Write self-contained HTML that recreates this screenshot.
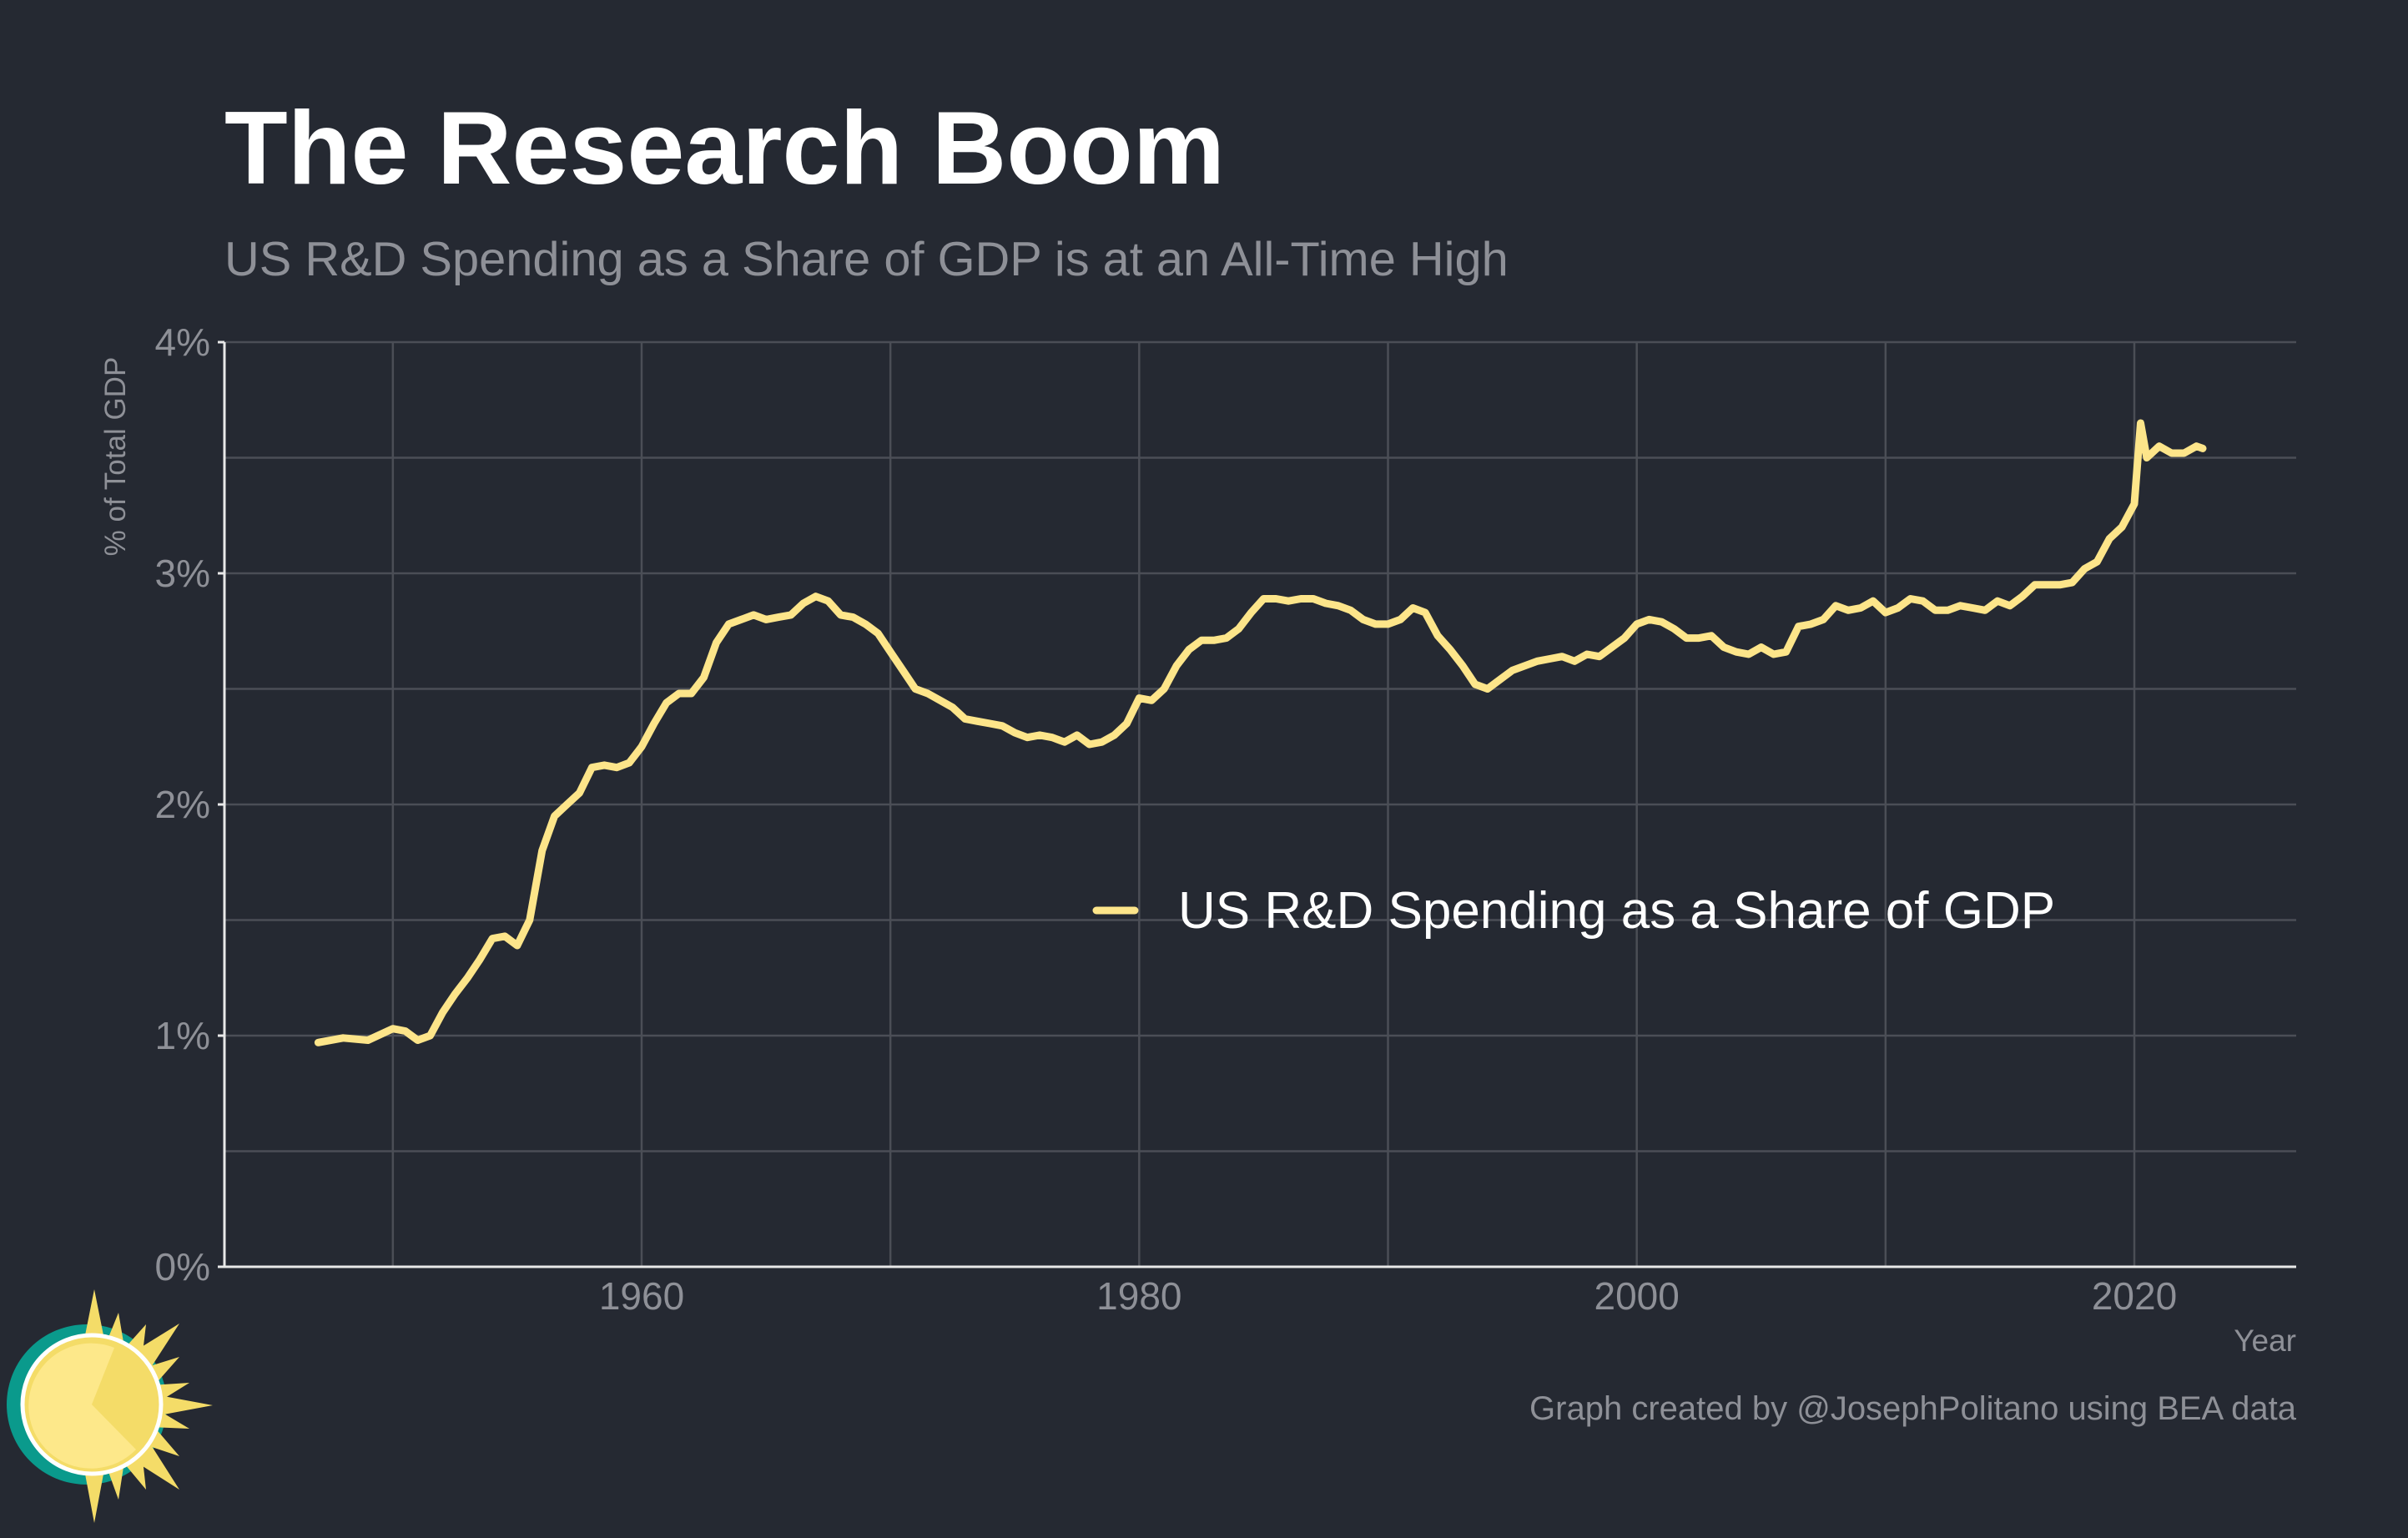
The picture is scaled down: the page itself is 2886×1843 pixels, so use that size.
<!DOCTYPE html>
<html><head><meta charset="utf-8"><style>
html,body{margin:0;padding:0;background:#252932;}
svg{display:block;font-family:"Liberation Sans",sans-serif;}
</style></head><body>
<svg id="chart" width="2886" height="1843" viewBox="0 0 2886 1843" xmlns="http://www.w3.org/2000/svg">
<rect width="2886" height="1843" fill="#252932"/>
<text x="269" y="220" font-size="124" font-weight="bold" fill="#ffffff">The Research Boom</text>
<text x="269" y="330" font-size="57.8" fill="#8e9097">US R&amp;D Spending as a Share of GDP is at an All-Time High</text>
<g id="grid"></g>
<g id="axes"></g>
<path id="series" fill="none" stroke="#fde58a" stroke-width="9" stroke-linejoin="round" stroke-linecap="round"/>
<text x="150" y="547" font-size="35" fill="#8e9097" text-anchor="middle" transform="rotate(-90 150 547)">% of Total GDP</text>
<text x="2752" y="1619" font-size="37" fill="#8e9097" text-anchor="end">Year</text>
<text x="2752" y="1701" font-size="40" fill="#8e9097" text-anchor="end">Graph created by @JosephPolitano using BEA data</text>
<g>
<line x1="1314" y1="1091" x2="1360" y2="1091" stroke="#fde58a" stroke-width="9" stroke-linecap="round"/>
<text x="1412" y="1112" font-size="62" fill="#ffffff">US R&amp;D Spending as a Share of GDP</text>
</g>
<g>
<circle cx="104" cy="1683" r="96" fill="#0a9a8c"/>
<g fill="#f4dc68">
<polygon points="113,1545 128,1620 98,1620"/>
<polygon points="113,1825 128,1745 98,1745"/>
<polygon points="255,1684 180,1670 180,1698"/>
<polygon points="142,1573 150,1620 125,1615"/>
<polygon points="142,1797 150,1745 125,1750"/>
<polygon points="175,1587 170,1630 150,1615"/>
<polygon points="175,1785 170,1740 150,1755"/>
<polygon points="215,1586 180,1640 160,1620"/>
<polygon points="215,1785 180,1730 160,1750"/>
<polygon points="215,1626 185,1660 170,1640"/>
<polygon points="215,1745 185,1710 170,1730"/>
<polygon points="227,1657 190,1680 180,1660"/>
<polygon points="227,1712 190,1690 180,1710"/>
</g>
<circle cx="110" cy="1683" r="83" fill="#f4dc68" stroke="#ffffff" stroke-width="5"/>
<path d="M110,1683 L137,1615 A75,75 0 1 0 163,1737 Z" fill="#fde88a"/>
</g>
<script>
const years=[1947,1948,1949,1950,1950.5,1951,1951.5,1952,1952.5,1953,1953.5,1954,1954.5,1955,1955.5,1956,1956.5,1957,1957.5,1958,1958.5,1959,1959.5,1960,1960.5,1961,1961.5,1962,1962.5,1963,1963.5,1964,1964.5,1965,1965.5,1966,1966.5,1967,1967.5,1968,1968.5,1969,1969.5,1970,1970.5,1971,1971.5,1972,1972.5,1973,1973.5,1974,1974.5,1975,1975.5,1976,1976.5,1977,1977.5,1978,1978.5,1979,1979.5,1980,1980.5,1981,1981.5,1982,1982.5,1983,1983.5,1984,1984.5,1985,1985.5,1986,1986.5,1987,1987.5,1988,1988.5,1989,1989.5,1990,1990.5,1991,1991.5,1992,1992.5,1993,1993.5,1994,1994.5,1995,1995.5,1996,1996.5,1997,1997.5,1998,1998.5,1999,1999.5,2000,2000.5,2001,2001.5,2002,2002.5,2003,2003.5,2004,2004.5,2005,2005.5,2006,2006.5,2007,2007.5,2008,2008.5,2009,2009.5,2010,2010.5,2011,2011.5,2012,2012.5,2013,2013.5,2014,2014.5,2015,2015.5,2016,2016.5,2017,2017.5,2018,2018.5,2019,2019.5,2020,2020.25,2020.5,2021,2021.5,2022,2022.5,2022.75];
const values=[0.97,0.99,0.98,1.03,1.02,0.98,1.0,1.1,1.18,1.25,1.33,1.42,1.43,1.39,1.5,1.8,1.95,2.0,2.05,2.16,2.17,2.16,2.18,2.25,2.35,2.44,2.48,2.48,2.55,2.7,2.78,2.8,2.82,2.8,2.81,2.82,2.87,2.9,2.88,2.82,2.81,2.78,2.74,2.66,2.58,2.5,2.48,2.45,2.42,2.37,2.36,2.35,2.34,2.31,2.29,2.3,2.29,2.27,2.3,2.26,2.27,2.3,2.35,2.46,2.45,2.5,2.6,2.67,2.71,2.71,2.72,2.76,2.83,2.89,2.89,2.88,2.89,2.89,2.87,2.86,2.84,2.8,2.78,2.78,2.8,2.85,2.83,2.73,2.67,2.6,2.52,2.5,2.54,2.58,2.6,2.62,2.63,2.64,2.62,2.65,2.64,2.68,2.72,2.78,2.8,2.79,2.76,2.72,2.72,2.73,2.68,2.66,2.65,2.68,2.65,2.66,2.77,2.78,2.8,2.86,2.84,2.85,2.88,2.83,2.85,2.89,2.88,2.84,2.84,2.86,2.85,2.84,2.88,2.86,2.9,2.95,2.95,2.95,2.96,3.02,3.05,3.15,3.2,3.3,3.65,3.5,3.55,3.52,3.52,3.55,3.54];
const xTicks=[1960,1980,2000,2020];
const xGrid=[1950,1960,1970,1980,1990,2000,2010,2020];
const yTicks=[0,1,2,3,4];
const yTickLabels=["0%","1%","2%","3%","4%"];
const yGrid=[0,0.5,1,1.5,2,2.5,3,3.5,4];
const L=269,R=2752,T=410,B=1518;
const x=v=>769+(v-1960)*(2558-769)/60;
const y=v=>B-(v/4)*(B-T);
const NS="http://www.w3.org/2000/svg";
const grid=document.getElementById('grid'),axes=document.getElementById('axes');
function mk(tag,attrs,parent){const e=document.createElementNS(NS,tag);for(const k in attrs)e.setAttribute(k,attrs[k]);parent.appendChild(e);return e;}
yGrid.forEach(v=>{const e=mk('line',{x1:L,x2:R,y1:y(v),y2:y(v),stroke:'#4b4e56','stroke-width':2.5},grid);

});
xGrid.forEach(v=>{const e=mk('line',{x1:x(v),x2:x(v),y1:T,y2:B,stroke:'#4b4e56','stroke-width':2.5},grid);

});
const xa=mk('line',{x1:L,x2:R,y1:B,y2:B,stroke:'#e8e8e8','stroke-width':3},axes);


const ya=mk('line',{x1:L,x2:L,y1:T,y2:B,stroke:'#e8e8e8','stroke-width':3},axes);


yTicks.forEach((v,i)=>{const t=mk('text',{x:252,y:y(v)+16,'font-size':46,fill:'#8e9097','text-anchor':'end'},axes);t.textContent=yTickLabels[i];


const k=mk('line',{x1:L-8,x2:L,y1:y(v),y2:y(v),stroke:'#e8e8e8','stroke-width':3},axes);

});
xTicks.forEach(v=>{const t=mk('text',{x:x(v),y:1569,'font-size':46,fill:'#8e9097','text-anchor':'middle'},axes);t.textContent=v;

});
document.getElementById('series').setAttribute('d',years.map((yr,i)=>(i?'L':'M')+x(yr).toFixed(1)+','+y(values[i]).toFixed(1)).join(' '));
</script>
</svg>
</body></html>
